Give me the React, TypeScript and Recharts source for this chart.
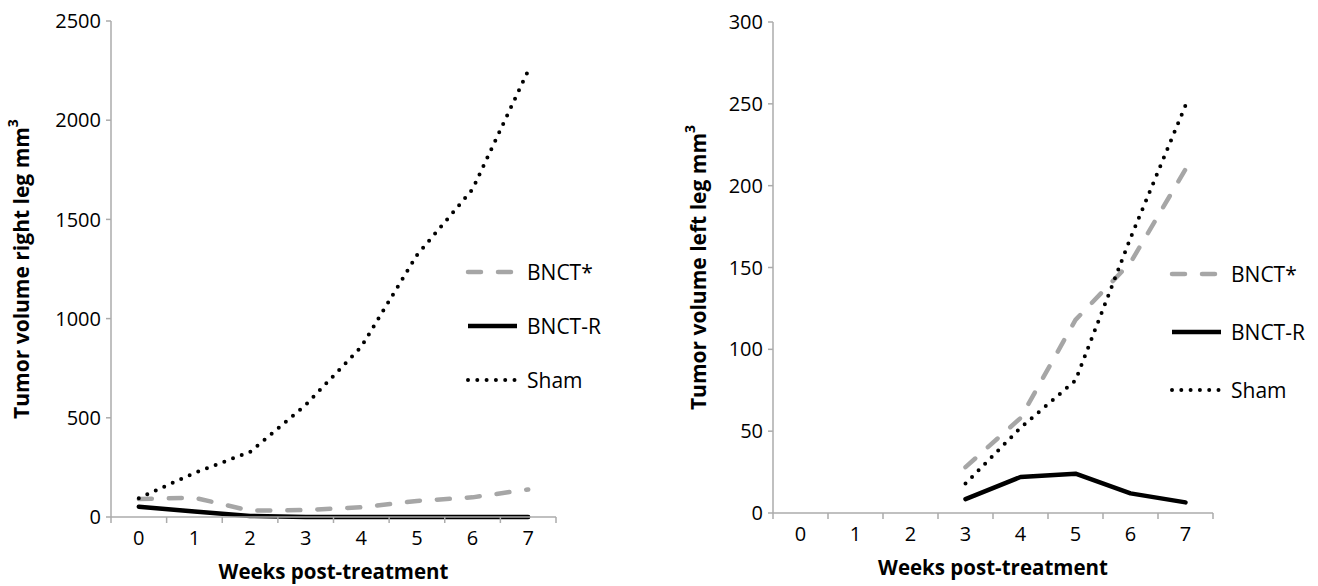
import { LineChart, Line, XAxis, YAxis, Legend } from 'recharts';

// weeks post-treatment (x categories)
const weeks = ['0', '1', '2', '3', '4', '5', '6', '7'];

// right leg tumor volume (mm³)
const rightBnctStar = [91, 97, 32, 35, 49, 81, 99, 139];
const rightBnctR = [52, 28, 5, 0, 0, 0, 0, 0];
const rightSham = [95, 222, 328, 565, 858, 1320, 1652, 2250];
const rightTicks = [0, 500, 1000, 1500, 2000, 2500];

// left leg tumor volume (mm³), nothing measured before week 3
const leftBnctStar = [null, null, null, 28, 58, 118, 153, 210];
const leftBnctR = [null, null, null, 8.5, 22, 24, 12, 6.5];
const leftSham = [null, null, null, 18, 52, 81, 168, 249];
const leftTicks = [0, 50, 100, 150, 200, 250, 300];

const seriesNames = ['BNCT*', 'BNCT-R', 'Sham'];

const FONT = '"Open Sans", Lato, sans-serif';
const AXIS = '#ababab';

const styles: Record<string, { stroke: string; width: number; dash?: string }> = {
  'BNCT*': { stroke: '#a6a6a6', width: 4.5, dash: '13 17' },
  'BNCT-R': { stroke: '#000000', width: 4.5 },
  Sham: { stroke: '#000000', width: 4, dash: '0 9.3' },
};

const buildRows = (a: (number | null)[], b: (number | null)[], c: (number | null)[]) =>
  weeks.map((w, i) => ({ week: w, 'BNCT*': a[i], 'BNCT-R': b[i], Sham: c[i] }));

const rightData = buildRows(rightBnctStar, rightBnctR, rightSham);
const leftData = buildRows(leftBnctStar, leftBnctR, leftSham);

function makeXTick(band: number) {
  return (props: any) => {
    const { x, y, payload } = props;
    const h = band / 2;
    const last = payload.value === weeks[weeks.length - 1];
    return (
      <g>
        <line x1={x - h} x2={x - h} y1={y} y2={y + 6} stroke={AXIS} strokeWidth={1.5} />
        {last && <line x1={x + h} x2={x + h} y1={y} y2={y + 6} stroke={AXIS} strokeWidth={1.5} />}
        <text x={x} y={y + 28} textAnchor="middle" fontFamily={FONT} fontSize={20} fill="#000">
          {payload.value}
        </text>
      </g>
    );
  };
}

function makeLegend(rowH: number) {
  return () => (
    <div style={{ fontFamily: FONT, fontSize: 21, color: '#000' }}>
      {seriesNames.map((n) => {
        const s = styles[n];
        return (
          <div key={n} style={{ height: rowH, display: 'flex', alignItems: 'center' }}>
            <svg width={58} height={12} style={{ marginRight: 4 }}>
              <line
                x1={3}
                x2={52}
                y1={6}
                y2={6}
                stroke={s.stroke}
                strokeWidth={s.width}
                strokeDasharray={s.dash}
                strokeLinecap={s.dash ? 'round' : 'butt'}
              />
            </svg>
            <span>{n}</span>
          </div>
        );
      })}
    </div>
  );
}

type PanelProps = {
  data: any[];
  width: number;
  yWidth: number;
  xHeight: number;
  margin: { top: number; right: number; bottom: number; left: number };
  ticks: number[];
  yTitle: string;
  yTitleX: number;
  legendLeft: number;
  legendTop: number;
  legendRow: number;
};

function Panel(p: PanelProps) {
  const plotW = p.width - p.margin.left - p.margin.right - p.yWidth;
  const band = plotW / weeks.length;
  return (
    <LineChart width={p.width} height={586} data={p.data} margin={p.margin}>
      <XAxis
        dataKey="week"
        height={p.xHeight}
        padding={{ left: band / 2, right: band / 2 }}
        stroke={AXIS}
        strokeWidth={1.5}
        tickLine={false}
        tickSize={0}
        tickMargin={0}
        interval={0}
        tick={makeXTick(band)}
        label={{
          content: ({ viewBox }: any) => (
            <text
              x={viewBox.x + viewBox.width / 2}
              y={viewBox.y + 62}
              textAnchor="middle"
              fontFamily={FONT}
              fontWeight={700}
              fontSize={20.5}
              fill="#000"
            >
              Weeks post-treatment
            </text>
          ),
        }}
      />
      <YAxis
        width={p.yWidth}
        domain={[p.ticks[0], p.ticks[p.ticks.length - 1]]}
        ticks={p.ticks}
        interval={0}
        stroke={AXIS}
        strokeWidth={1.5}
        tickSize={5}
        tickMargin={5}
        tick={{ fill: '#000', fontSize: 20, fontFamily: FONT }}
        label={{
          content: ({ viewBox }: any) => {
            const cx = viewBox.x + p.yTitleX;
            const cy = viewBox.y + viewBox.height / 2;
            return (
              <text
                x={cx}
                y={cy}
                transform={`rotate(-90, ${cx}, ${cy})`}
                textAnchor="middle"
                dominantBaseline="central"
                fontFamily={FONT}
                fontWeight={700}
                fontSize={21}
                fill="#000"
              >
                {p.yTitle}
                <tspan dy={-9} fontSize={14}>3</tspan>
              </text>
            );
          },
        }}
      />
      <Legend
        layout="vertical"
        align="center"
        verticalAlign="middle"
        content={makeLegend(p.legendRow)}
        wrapperStyle={{ position: 'absolute', left: p.legendLeft, top: p.legendTop, width: 'auto', height: 'auto' }}
      />
      {seriesNames.map((n) => (
        <Line
          key={n}
          dataKey={n}
          name={n}
          type="linear"
          stroke={styles[n].stroke}
          strokeWidth={styles[n].width}
          strokeDasharray={styles[n].dash}
          strokeLinecap="round"
          strokeLinejoin="round"
          dot={false}
          activeDot={false}
          isAnimationActive={false}
        />
      ))}
    </LineChart>
  );
}

export default function App() {
  return (
    <div style={{ position: 'absolute', left: 0, top: 0, width: 1318, height: 586, background: '#fff', display: 'flex' }}>
      <Panel
        data={rightData}
        width={660}
        yWidth={111}
        xHeight={69}
        margin={{ top: 21, right: 104, bottom: 0, left: 0 }}
        ticks={rightTicks}
        yTitle="Tumor volume right leg mm"
        yTitleX={21}
        legendLeft={465}
        legendTop={245}
        legendRow={54}
      />
      <Panel
        data={leftData}
        width={658}
        yWidth={113}
        xHeight={73}
        margin={{ top: 22, right: 105, bottom: 0, left: 0 }}
        ticks={leftTicks}
        yTitle="Tumor volume left leg mm"
        yTitleX={38}
        legendLeft={509}
        legendTop={245}
        legendRow={58}
      />
    </div>
  );
}
